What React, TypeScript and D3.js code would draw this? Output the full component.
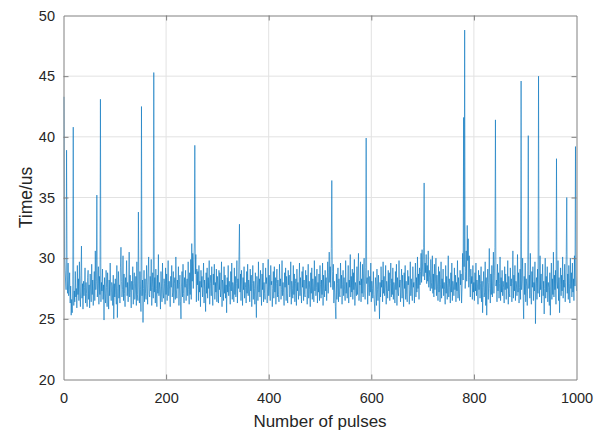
import { useEffect, useRef } from "react";
import * as d3 from "d3";

// measured time per pulse (us), pulses 1..1000
const timeUs: number[] = [
  43.3, 30.1, 29.0, 28.2, 27.4, 38.9, 28.6, 27.1, 29.6, 26.9, 27.4, 28.8, 26.3, 27.7, 25.3, 26.6, 25.5, 27.8, 40.8, 26.1,
  27.3, 26.4, 28.9, 26.8, 27.5, 25.9, 29.4, 27.0, 28.3, 26.5, 29.7, 27.2, 26.0, 28.6, 31.0, 26.7, 27.9, 25.8, 28.1, 26.9,
  27.6, 29.2, 26.3, 28.0, 27.1, 26.0, 28.4, 29.0, 26.6, 27.8, 25.9, 28.7, 27.3, 26.4, 29.5, 27.0, 28.2, 26.1, 27.7, 28.9,
  26.5, 30.6, 27.4, 28.1, 35.2, 26.8, 27.9, 29.3, 26.2, 28.5, 27.0, 43.1, 26.4, 28.0, 27.3, 29.1, 26.6, 27.8, 24.9, 28.4,
  27.1, 26.3, 29.0, 27.6, 26.0, 28.8, 27.4, 25.8, 28.2, 26.9, 29.6, 27.2, 26.5, 28.0, 27.7, 26.1, 28.6, 25.0, 27.9, 26.8,
  28.3, 27.0, 26.2, 29.4, 25.1, 27.5, 28.9, 26.7, 27.8, 26.3, 29.2, 30.9, 28.1, 26.8, 27.4, 30.2, 26.5, 28.7, 27.1, 26.0,
  28.4, 27.6, 29.8, 26.9, 28.0, 26.4, 27.7, 30.5, 26.8, 28.6, 27.2, 25.9, 28.1, 27.4, 29.3, 26.2, 27.9, 28.8, 26.6, 27.3,
  28.5, 26.1, 29.7, 27.0, 26.5, 33.8, 27.8, 26.3, 28.9, 27.4, 25.6, 42.5, 26.9, 28.2, 24.7, 27.5, 29.0, 26.4, 28.3, 27.1,
  26.6, 29.4, 27.8, 26.2, 28.7, 30.1, 27.0, 26.8, 28.5, 27.3, 29.9, 26.1, 27.6, 28.8, 26.7, 45.3, 27.2, 28.4, 26.3, 29.1,
  27.5, 26.0, 28.6, 27.1, 30.3, 26.9, 28.0, 27.4, 25.8, 28.9, 27.7, 26.4, 29.6, 27.2, 26.7, 28.3, 27.9, 26.2, 29.2, 27.0,
  28.7, 26.5, 27.8, 29.8, 26.9, 28.1, 27.3, 26.0, 28.5, 27.6, 29.4, 26.8, 27.2, 28.9, 26.3, 27.9, 28.4, 26.6, 30.1, 27.4,
  26.7, 28.2, 27.5, 29.3, 26.1, 27.8, 28.6, 26.4, 25.0, 27.7, 28.9, 26.8, 29.5, 27.1, 26.3, 28.4, 27.6, 29.0, 26.5, 27.9,
  28.3, 26.9, 29.7, 27.4, 26.2, 28.8, 27.0, 29.9, 26.6, 31.2, 28.1, 30.4, 27.5, 29.6, 31.0, 39.3, 28.7, 30.3, 26.4, 29.1,
  27.8, 28.9, 26.5, 29.4, 27.2, 28.1, 26.0, 29.0, 27.6, 28.5, 26.8, 27.9, 29.6, 26.3, 28.2, 27.4, 25.6, 28.8, 27.1, 29.2,
  26.7, 28.4, 27.5, 29.8, 26.2, 27.9, 28.6, 26.9, 29.3, 27.3, 26.1, 28.7, 27.8, 29.5, 26.6, 28.0, 27.2, 29.1, 26.4, 28.5,
  27.7, 26.3, 29.0, 27.4, 28.8, 26.8, 27.5, 29.7, 26.0, 28.2, 27.9, 26.5, 29.3, 27.1, 28.6, 26.7, 27.8, 25.5, 28.4, 27.2,
  29.4, 26.9, 28.1, 27.6, 26.2, 28.9, 27.3, 29.6, 26.6, 28.0, 27.7, 26.4, 29.2, 27.0, 28.5, 26.8, 27.9, 29.8, 26.3, 28.3,
  27.5, 30.1, 32.8, 27.2, 28.7, 26.5, 29.0, 27.8, 26.1, 28.4, 27.4, 29.3, 26.7, 28.0, 27.6, 26.3, 28.9, 27.1, 29.5, 26.9,
  28.2, 27.7, 26.4, 29.1, 27.3, 28.6, 26.0, 27.9, 29.4, 26.6, 28.1, 27.5, 26.2, 28.8, 27.0, 25.1, 28.5, 27.8, 26.5, 29.7,
  27.2, 28.3, 26.8, 29.0, 27.6, 26.1, 28.7, 27.4, 29.6, 26.4, 28.0, 27.1, 26.6, 29.2, 27.9, 28.4, 26.3, 27.7, 29.9, 26.9,
  28.6, 27.3, 26.5, 29.4, 27.8, 28.1, 26.0, 27.5, 28.9, 26.7, 29.3, 27.2, 28.4, 26.2, 27.9, 29.1, 26.8, 28.2, 27.0, 26.4,
  29.5, 27.7, 28.3, 26.6, 27.4, 29.8, 26.9, 28.0, 27.2, 26.1, 28.8, 27.6, 29.2, 26.5, 28.5, 27.1, 26.3, 29.0, 27.8, 28.6,
  26.8, 27.4, 29.7, 26.2, 28.1, 27.5, 26.7, 29.4, 27.0, 28.7, 26.4, 27.9, 28.3, 26.1, 29.1, 27.3, 28.0, 26.6, 27.7, 29.6,
  26.9, 28.4, 27.2, 26.3, 28.9, 27.6, 29.3, 26.5, 28.2, 27.0, 26.8, 29.0, 27.5, 28.6, 26.2, 27.8, 29.5, 26.7, 28.1, 27.4,
  26.0, 28.8, 27.1, 29.2, 26.6, 28.3, 27.7, 26.4, 29.8, 27.3, 28.5, 26.9, 27.6, 29.1, 26.3, 28.0, 27.2, 28.7, 26.5, 29.4,
  27.8, 26.7, 28.2, 27.0, 29.6, 26.1, 28.6, 27.5, 26.8, 29.0, 27.3, 28.4, 26.5, 27.9, 29.7, 27.1, 28.8, 30.5, 28.0, 29.3,
  27.6, 30.8, 36.4, 28.9, 27.4, 29.5, 26.3, 28.1, 27.2, 26.0, 25.0, 28.7, 26.6, 27.9, 29.2, 26.4, 28.3, 27.0, 26.8, 29.6,
  27.5, 28.6, 26.2, 27.8, 29.0, 26.9, 28.4, 27.3, 26.5, 29.8, 27.1, 28.0, 26.7, 27.7, 29.4, 26.3, 28.2, 27.6, 30.3, 26.8,
  28.5, 27.2, 29.1, 26.6, 28.8, 27.4, 29.9, 26.1, 28.0, 27.7, 26.9, 29.3, 27.0, 28.6, 30.4, 26.5, 28.1, 27.8, 29.7, 26.4,
  28.3, 27.1, 29.5, 26.8, 28.7, 30.0, 27.3, 26.6, 29.2, 39.9, 27.9, 28.4, 26.2, 29.0, 27.6, 26.9, 28.5, 27.2, 29.6, 26.4,
  28.1, 27.5, 26.7, 28.9, 27.0, 26.3, 25.6, 28.4, 27.8, 26.1, 29.1, 27.4, 26.5, 28.6, 27.2, 25.0, 28.0, 26.8, 29.3, 27.6,
  28.2, 26.4, 29.7, 27.1, 28.5, 26.9, 27.8, 29.4, 26.2, 28.1, 27.5, 26.7, 29.0, 27.3, 28.8, 26.5, 27.9, 29.6, 26.8, 28.3,
  27.0, 29.2, 26.6, 28.0, 27.7, 26.3, 28.9, 27.4, 29.5, 26.1, 28.4, 27.2, 26.9, 29.8, 27.6, 28.2, 26.4, 27.9, 29.1, 26.7,
  28.6, 27.3, 26.0, 28.8, 27.5, 29.4, 26.6, 28.1, 27.0, 26.4, 29.0, 27.8, 28.5, 26.2, 27.4, 29.7, 26.9, 28.3, 27.1, 26.5,
  29.3, 27.6, 28.0, 26.3, 27.9, 29.6, 26.8, 28.4, 27.2, 30.1, 27.5, 28.7, 26.6, 29.2, 27.8, 28.9, 30.4, 28.0, 30.7, 29.1,
  28.5, 30.9, 36.2, 28.2, 29.6, 28.8, 30.3, 27.9, 29.4, 28.1, 30.6, 27.6, 29.0, 28.4, 27.3, 29.9, 28.0, 27.5, 30.2, 27.1,
  28.7, 26.8, 29.5, 27.4, 28.2, 30.0, 26.9, 28.6, 27.7, 26.5, 29.3, 27.2, 28.9, 26.4, 27.8, 29.7, 26.7, 28.3, 27.5, 29.1,
  26.9, 28.0, 27.4, 26.2, 29.4, 27.1, 28.5, 26.6, 27.9, 30.2, 26.8, 28.3, 27.6, 26.3, 28.8, 27.2, 29.6, 26.5, 28.1, 27.7,
  26.9, 29.2, 27.4, 28.6, 26.4, 28.0, 27.3, 29.8, 26.7, 28.4, 27.1, 26.5, 29.0, 27.8, 28.7, 26.3, 27.6, 30.4, 28.2, 41.6,
  29.3, 48.8, 27.5, 28.9, 30.6, 28.1, 32.7, 29.8, 31.6, 27.6, 30.2, 28.4, 26.8, 29.1, 27.9, 28.5, 26.6, 29.4, 27.2, 28.0,
  26.5, 28.8, 27.3, 29.6, 26.9, 28.2, 27.7, 26.2, 29.0, 27.4, 28.6, 26.7, 27.9, 29.3, 26.4, 28.1, 25.5, 27.6, 28.9, 26.8,
  27.2, 29.7, 26.1, 28.4, 25.3, 27.8, 29.1, 26.6, 28.0, 30.8, 27.5, 26.3, 28.7, 27.0, 29.4, 26.8, 28.3, 30.5, 27.1, 28.6,
  30.9, 41.4, 27.7, 28.2, 26.4, 29.5, 27.3, 28.8, 26.7, 27.9, 30.1, 26.5, 28.4, 27.2, 29.0, 26.9, 28.1, 27.6, 26.3, 29.3,
  27.4, 28.7, 26.6, 28.0, 27.5, 29.8, 26.2, 28.5, 27.1, 26.8, 29.2, 27.7, 28.3, 26.4, 27.9, 30.6, 26.7, 28.6, 27.3, 29.4,
  26.5, 28.1, 27.8, 26.9, 30.3, 27.2, 28.8, 26.3, 27.6, 29.1, 26.6, 44.6, 27.4, 28.2, 30.0, 26.8, 25.0, 28.5, 27.0, 29.6,
  26.4, 28.3, 27.7, 26.1, 29.0, 40.1, 27.5, 28.6, 26.7, 30.4, 27.2, 26.2, 28.9, 27.6, 29.3, 26.5, 28.0, 27.3, 29.7, 24.6,
  27.9, 28.4, 26.6, 29.1, 27.1, 45.0, 28.2, 26.8, 30.2, 27.4, 28.7, 26.3, 27.8, 29.5, 26.9, 28.1, 25.4, 27.5, 30.0, 26.7,
  28.5, 27.2, 29.3, 26.4, 28.0, 27.6, 26.1, 28.8, 25.3, 27.7, 29.6, 26.6, 28.3, 27.0, 30.5, 26.8, 28.6, 27.4, 29.0, 26.2,
  38.2, 28.1, 27.5, 29.8, 26.5, 28.4, 25.5, 27.8, 29.2, 26.9, 28.6, 27.3, 30.1, 26.7, 28.2, 27.6, 29.5, 26.4, 28.0, 30.3,
  35.0, 27.1, 28.7, 26.6, 29.4, 27.9, 26.3, 30.0, 27.5, 28.8, 26.8, 29.6, 27.2, 28.3, 26.5, 30.2, 27.7, 39.2, 28.6, 27.3,
];

const xTicks = [0, 200, 400, 600, 800, 1000];
const yTicks = [20, 25, 30, 35, 40, 45, 50];
const xLabel = "Number of pulses";
const yLabel = "Time/us";

const W = 598;
const H = 436;

const PulseChart = () => {
  const svgRef = useRef<SVGSVGElement | null>(null);

  useEffect(() => {
    const svg = d3.select(svgRef.current);
    svg.selectAll("*").remove();

    const margin = { top: 15.5, right: 21.5, bottom: 56.5, left: 63.5 };
    const innerWidth = W - margin.left - margin.right;
    const innerHeight = H - margin.top - margin.bottom;
    const font = "Arial, 'Liberation Sans', Helvetica, sans-serif";
    const axisColor = "#262626";

    const x = d3.scaleLinear().domain([0, 1000]).range([0, innerWidth]);
    const y = d3.scaleLinear().domain([20, 50]).range([innerHeight, 0]);

    const g = svg
      .append("g")
      .attr("transform", `translate(${margin.left},${margin.top})`);

    // grid
    g.append("g")
      .selectAll("line")
      .data(xTicks.slice(1, -1))
      .join("line")
      .attr("x1", (d) => x(d))
      .attr("x2", (d) => x(d))
      .attr("y1", 0)
      .attr("y2", innerHeight)
      .attr("stroke", "#e2e2e2")
      .attr("stroke-width", 1);

    g.append("g")
      .selectAll("line")
      .data(yTicks.slice(1, -1))
      .join("line")
      .attr("x1", 0)
      .attr("x2", innerWidth)
      .attr("y1", (d) => y(d))
      .attr("y2", (d) => y(d))
      .attr("stroke", "#e2e2e2")
      .attr("stroke-width", 1);

    // data line
    const line = d3
      .line<number>()
      .x((_, i) => x(i + 1))
      .y((d) => y(d));

    g.append("path")
      .datum(timeUs)
      .attr("fill", "none")
      .attr("stroke", "#0072BD")
      .attr("stroke-width", 0.6)
      .attr("d", line);

    // axes (box with inward ticks)
    const styleAxis = (sel: d3.Selection<SVGGElement, unknown, null, undefined>) => {
      sel.select(".domain").attr("stroke", "#808080").attr("stroke-width", 1);
      sel.selectAll(".tick line").attr("stroke", "#808080");
      sel
        .selectAll(".tick text")
        .attr("fill", axisColor)
        .attr("font-size", 14.5)
        .attr("font-family", font);
    };

    g.append("g")
      .attr("transform", `translate(0,${innerHeight})`)
      .call(
        d3.axisBottom(x).tickValues(xTicks).tickSizeInner(-5).tickSizeOuter(0).tickPadding(13).tickFormat(d3.format("d"))
      )
      .call(styleAxis);

    g.append("g")
      .call(d3.axisTop(x).tickValues(xTicks).tickSizeInner(-5).tickSizeOuter(0).tickFormat(() => ""))
      .call(styleAxis);

    g.append("g")
      .call(
        d3.axisLeft(y).tickValues(yTicks).tickSizeInner(-5).tickSizeOuter(0).tickPadding(8.5).tickFormat(d3.format("d"))
      )
      .call(styleAxis);

    g.append("g")
      .attr("transform", `translate(${innerWidth},0)`)
      .call(d3.axisRight(y).tickValues(yTicks).tickSizeInner(-5).tickSizeOuter(0).tickFormat(() => ""))
      .call(styleAxis);

    g.selectAll(".tick")
      .filter((d) => d === 20 || d === 50 || d === 0 || d === 1000)
      .select("line")
      .attr("stroke", "none");

    svg
      .append("text")
      .attr("x", margin.left + innerWidth / 2)
      .attr("y", 427)
      .attr("text-anchor", "middle")
      .attr("fill", axisColor)
      .attr("font-size", 17)
      .attr("font-family", font)
      .text(xLabel);

    svg
      .append("text")
      .attr("transform", `translate(31.5,${margin.top + innerHeight / 2}) rotate(-90)`)
      .attr("text-anchor", "middle")
      .attr("fill", axisColor)
      .attr("font-size", 17.5)
      .attr("font-family", font)
      .text(yLabel);
  }, []);

  return (
    <svg
      ref={svgRef}
      width={W}
      height={H}
      style={{ position: "absolute", left: 0, top: 0, background: "#ffffff" }}
    />
  );
};

export default function App() {
  return <PulseChart />;
}
